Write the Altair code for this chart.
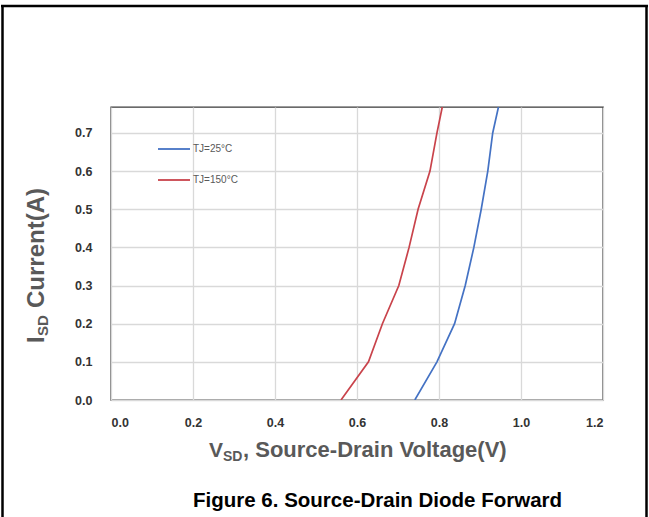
import altair as alt
import pandas as pd

# Source-drain diode forward characteristic, read as (V_SD, I_SD) pairs
v_25 = [0.741, 0.795, 0.838, 0.864, 0.885, 0.903, 0.919, 0.931, 0.945]
i_25 = [0.0, 0.1, 0.2, 0.3, 0.4, 0.5, 0.6, 0.7, 0.768]
v_150 = [0.561, 0.628, 0.662, 0.702, 0.727, 0.749, 0.778, 0.795, 0.808]
i_150 = [0.0, 0.1, 0.2, 0.3, 0.4, 0.5, 0.6, 0.7, 0.768]

series_names = ["TJ=25°C", "TJ=150°C"]
series_colors = ["#4472C4", "#C9434B"]

x_ticks = [0.0, 0.2, 0.4, 0.6, 0.8, 1.0, 1.2]
y_ticks = [0.0, 0.1, 0.2, 0.3, 0.4, 0.5, 0.6, 0.7]

rows = []
for k, (v, i) in enumerate(zip(v_25, i_25)):
    rows.append({"series": series_names[0], "V": v, "I": i, "idx": k})
for k, (v, i) in enumerate(zip(v_150, i_150)):
    rows.append({"series": series_names[1], "V": v, "I": i, "idx": k})
df = pd.DataFrame(rows)

W, H = 492, 293
FONT = "Liberation Sans"
GRAY = "#595959"

x_scale = alt.Scale(domain=[0, 1.2], nice=False, zero=False)
y_scale = alt.Scale(domain=[0, 0.768], nice=False)

base = alt.Chart(df)

curves = base.mark_line(strokeWidth=1.7, clip=True).encode(
    x=alt.X("V:Q", scale=x_scale,
            axis=alt.Axis(values=x_ticks, format=".1f", title=None, domain=False,
                          ticks=False, grid=True, gridColor="#d9d9d9", gridWidth=1.3,
                          labelFont=FONT, labelFontWeight="bold", labelFontSize=12.5,
                          labelColor="#333333", labelPadding=16)),
    y=alt.Y("I:Q", scale=y_scale,
            axis=alt.Axis(values=y_ticks, format=".1f", title=None, domain=False,
                          ticks=False, grid=True, gridColor="#d9d9d9", gridWidth=1.3,
                          labelFont=FONT, labelFontWeight="bold", labelFontSize=12.5,
                          labelColor="#333333", labelPadding=19)),
    color=alt.Color("series:N", scale=alt.Scale(domain=series_names, range=series_colors),
                    legend=None),
    order=alt.Order("idx:Q"),
)

one = pd.DataFrame({"k": [0]})


def label(text, x, y, size, **kw):
    return alt.Chart(one).mark_text(text=text, font=FONT, fontSize=size, **kw).encode(
        x=alt.value(x), y=alt.value(y))


def rule(x, y, x2=None, y2=None, color="black", width=2.5):
    enc = {"x": alt.value(x), "y": alt.value(y)}
    if x2 is not None:
        enc["x2"] = alt.value(x2)
    if y2 is not None:
        enc["y2"] = alt.value(y2)
    return alt.Chart(one).mark_rule(color=color, strokeWidth=width).encode(**enc)


# legend inside the plot area
legend = []
for name, color, yy in zip(series_names, series_colors, [42, 73]):
    legend.append(rule(47, yy, x2=79, color=color, width=1.8))
    legend.append(label(name, 82, yy, 10, align="left", baseline="middle", color=GRAY))

# x-axis title with subscript
x_title = [
    label("V", 98, 350, 21, align="left", baseline="alphabetic", fontWeight="bold",
          color=GRAY),
    label("SD", 112, 354, 14, align="left", baseline="alphabetic", fontWeight="bold",
          color=GRAY),
    label(", Source-Drain Voltage(V)", 132, 350, 22, align="left",
          baseline="alphabetic", fontWeight="bold", color=GRAY),
]

# y-axis title with subscript, rotated
y_title = [
    label("I", -67, 236, 24, align="left", baseline="alphabetic", angle=270,
          fontWeight="bold", color=GRAY),
    label("SD", -63, 229, 15, align="left", baseline="alphabetic", angle=270,
          fontWeight="bold", color=GRAY),
    label("Current(A)", -67, 201, 24, align="left", baseline="alphabetic", angle=270,
          fontWeight="bold", color=GRAY),
]

caption = label("Figure 6. Source-Drain Diode Forward", 82, 400, 20.5, align="left",
                baseline="alphabetic", fontWeight="bold", color="black")

# surrounding panel frame
frame = [
    rule(-108.5, -101, y2=420),
    rule(535.5, -101, y2=420),
    rule(-110, -101, x2=537),
]

chart = alt.layer(curves, *legend, *x_title, *y_title, caption, *frame).properties(
    width=W, height=H,
    padding={"left": 111, "top": 107, "right": 46, "bottom": 117},
    autosize="none",
    background="white",
).configure_view(stroke="#3a3a3a", strokeWidth=1.4)

chart.save("out.html", embed_options={"renderer": "svg", "actions": False})
